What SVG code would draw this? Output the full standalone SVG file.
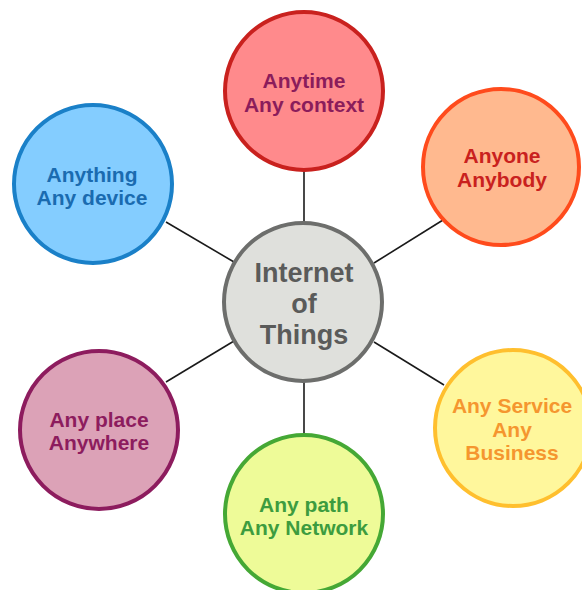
<svg xmlns="http://www.w3.org/2000/svg" width="582" height="590" viewBox="0 0 582 590">
<style>
.n circle{stroke-width:4}
text{font-family:"Liberation Sans",Arial,sans-serif;font-weight:bold;font-size:21px;text-anchor:middle}
text.big{font-size:27px}
.c line{stroke:#1a1a1a;stroke-width:1.6}
</style>
<rect width="582" height="590" fill="#ffffff"/>
<g id="connectors" class="c">
<line x1="304" y1="170" x2="304" y2="224"/>
<line x1="304" y1="380" x2="304" y2="436"/>
<line x1="374" y1="263" x2="443" y2="220"/>
<line x1="166" y1="222" x2="234" y2="262"/>
<line x1="166" y1="382" x2="234" y2="341"/>
<line x1="374" y1="342" x2="444" y2="385"/>
</g>
<g id="center" class="n">
<circle cx="303" cy="302" r="79" fill="#dfe0dc" stroke="#6d6e6c"/>
<text class="big" x="304" y="282" fill="#5a5b5a">Internet</text>
<text class="big" x="304" y="313" fill="#5a5b5a">of</text>
<text class="big" x="304" y="344" fill="#5a5b5a">Things</text>
</g>
<g id="anytime" class="n">
<circle cx="304" cy="91" r="79" fill="#ff8a8c" stroke="#c9211e"/>
<text x="304" y="88" fill="#8b1c5b">Anytime</text>
<text x="304" y="112" fill="#8b1c5b">Any context</text>
</g>
<g id="anyone" class="n">
<circle cx="501" cy="167" r="78" fill="#ffb98f" stroke="#ff4b1c"/>
<text x="502" y="163" fill="#c9211e">Anyone</text>
<text x="502" y="187" fill="#c9211e">Anybody</text>
</g>
<g id="anything" class="n">
<circle cx="93" cy="184" r="79" fill="#84cdff" stroke="#1a80c8"/>
<text x="92" y="182" fill="#1a6bb0">Anything</text>
<text x="92" y="205" fill="#1a6bb0">Any device</text>
</g>
<g id="anyplace" class="n">
<circle cx="99" cy="430" r="79" fill="#dca2b7" stroke="#8d1c5e"/>
<text x="99" y="427" fill="#8d1c5e">Any place</text>
<text x="99" y="450" fill="#8d1c5e">Anywhere</text>
</g>
<g id="anyservice" class="n">
<circle cx="513" cy="428" r="78" fill="#fff79c" stroke="#ffbf2e"/>
<text x="512" y="413" fill="#f5962f">Any Service</text>
<text x="512" y="437" fill="#f5962f">Any</text>
<text x="512" y="460" fill="#f5962f">Business</text>
</g>
<g id="anypath" class="n">
<circle cx="304" cy="514" r="79" fill="#eefb98" stroke="#45a835"/>
<text x="304" y="512" fill="#3d9c3f">Any path</text>
<text x="304" y="535" fill="#3d9c3f">Any Network</text>
</g>
</svg>
